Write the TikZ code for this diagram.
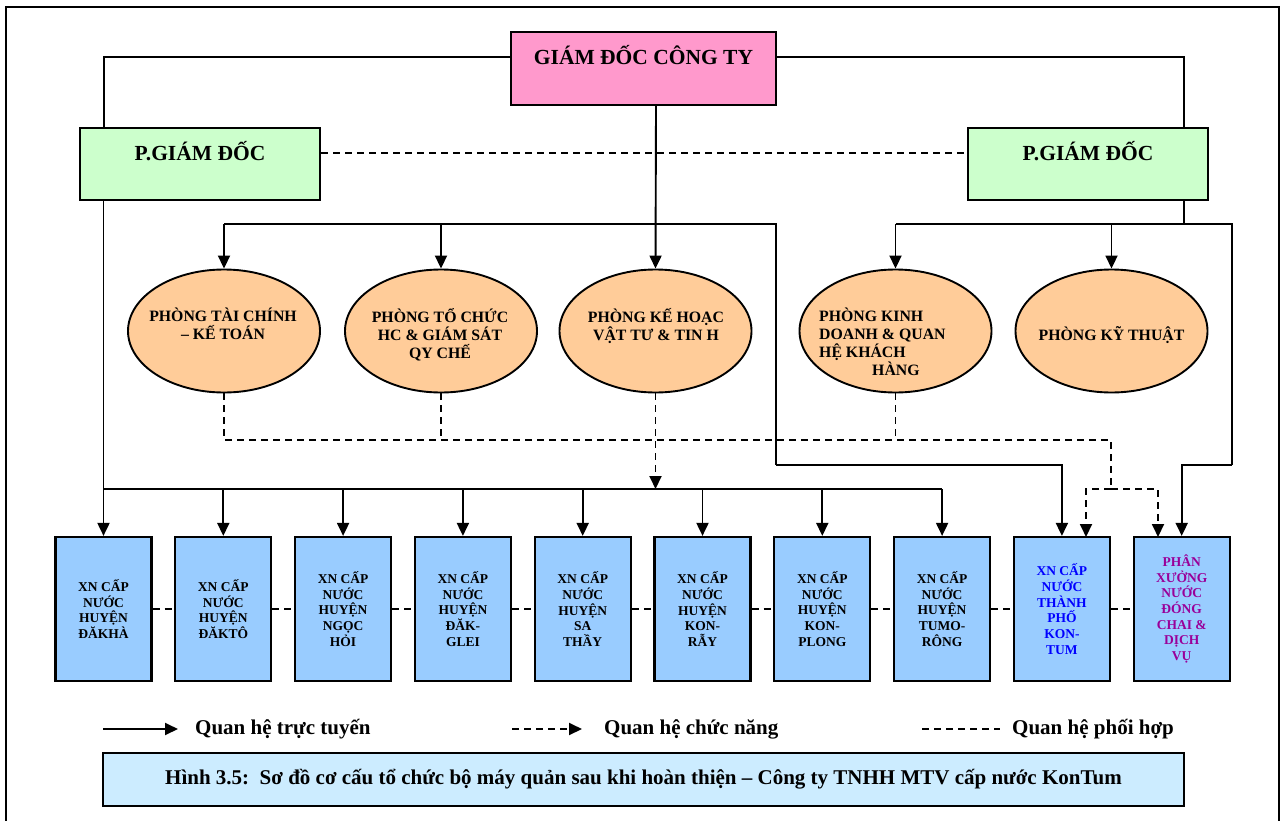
\documentclass[tikz,border=0pt]{standalone}
\usepackage{fontspec}
\setmainfont{Liberation Serif}
\usetikzlibrary{arrows.meta,shapes.geometric,calc}
\definecolor{pinkbox}{HTML}{FF99CC}
\definecolor{greenbox}{HTML}{CCFFCC}
\definecolor{orangeell}{HTML}{FFCC99}
\definecolor{bluebox}{HTML}{99CCFF}
\definecolor{capbox}{HTML}{CCECFF}
\definecolor{purpletxt}{HTML}{990099}
\definecolor{bluetxt}{HTML}{0000FF}
\begin{document}
\begin{tikzpicture}[x=1pt,y=-1pt,
  ln/.style={line width=1.9pt, black},
  arr/.style={ln, -{Triangle[length=13pt,width=12pt]}},
  dsh/.style={ln, dash pattern=on 7pt off 5pt},
  dsharr/.style={dsh, -{Triangle[length=13pt,width=12pt]}},
  boxx/.style={draw, line width=2.2pt, rectangle, inner sep=0pt},
  topbox/.style={boxx, fill=pinkbox, minimum width=265pt, minimum height=73pt},
  pgdbox/.style={boxx, fill=greenbox, minimum width=240pt, minimum height=72pt},
  dept/.style={draw, line width=1.9pt, ellipse, fill=orangeell, minimum width=192pt, minimum height=123pt, inner sep=0pt},
  unit/.style={boxx, fill=bluebox, minimum width=96pt, minimum height=144pt, align=center, font=\fontsize{13.5}{15.7}\selectfont\bfseries},
  bigtext/.style={font=\fontsize{21.5}{25}\selectfont\bfseries, inner sep=0pt, anchor=base},
  etext/.style={font=\fontsize{15.8}{18}\selectfont\bfseries, inner sep=0pt, anchor=north, align=center},
  legtext/.style={font=\fontsize{21}{24}\selectfont\bfseries, inner sep=0pt, anchor=west},
]
\useasboundingbox (0,0) rectangle (1281,821);
% outer frame
\draw[line width=2.4pt] (6,821) -- (6,7) -- (1279,7) -- (1279,821);

% top
\node[topbox] (gd) at (643.5,68.5) {};
\node[bigtext] (gdt) at (643.5,64.5) {GIÁM ĐỐC CÔNG TY};
\node[pgdbox] (pgd1) at (200,164) {};
\node[bigtext] (pgd1t) at (200,160.5) {P.GIÁM ĐỐC};
\node[pgdbox] (pgd2) at (1088,164) {};
\node[bigtext] (pgd2t) at (1088,160.5) {P.GIÁM ĐỐC};

% departments
\node[dept] (e1) at (224,331) {};
\node[dept] (e2) at (441,331) {};
\node[dept] (e3) at (655.5,331) {};
\node[dept] (e4) at (895.5,331) {};
\node[dept] (e5) at (1111.5,331) {};
\node[etext] (e1t) at (223,308) {PHÒNG TÀI CHÍNH\\– KẾ TOÁN};
\node[etext] (e2t) at (440,308) {PHÒNG TỔ CHỨC\\HC \& GIÁM SÁT\\QY CHẾ};
\node[etext] (e3t) at (656,308) {PHÒNG KẾ HOẠC\\VẬT TƯ \& TIN H};
\node[etext, anchor=north west, align=left] (e4t) at (819,308) {PHÒNG KINH\\DOANH \& QUAN\\HỆ KHÁCH\\\hspace*{53pt}HÀNG};
\node[bigtext, font=\fontsize{15.8}{18}\selectfont\bfseries] (e5t) at (1111.5,340) {PHÒNG KỸ THUẬT};

% units
\node[unit] (x1) at (103.5,609) {XN CẤP\\NƯỚC\\HUYỆN\\ĐĂKHÀ};
\node[unit] (x2) at (223.3,609) {XN CẤP\\NƯỚC\\HUYỆN\\ĐĂKTÔ};
\node[unit] (x3) at (343.1,609) {XN CẤP\\NƯỚC\\HUYỆN\\NGỌC\\HỎI};
\node[unit] (x4) at (462.9,609) {XN CẤP\\NƯỚC\\HUYỆN\\ĐĂK-\\GLEI};
\node[unit] (x5) at (582.7,609) {XN CẤP\\NƯỚC\\HUYỆN\\SA\\THẦY};
\node[unit] (x6) at (702.5,609) {XN CẤP\\NƯỚC\\HUYỆN\\KON-\\RẪY};
\node[unit] (x7) at (822.3,609) {XN CẤP\\NƯỚC\\HUYỆN\\KON-\\PLONG};
\node[unit] (x8) at (942.1,609) {XN CẤP\\NƯỚC\\HUYỆN\\TUMO-\\RÔNG};
\node[unit, text=bluetxt] (x9) at (1061.9,609) {XN CẤP\\NƯỚC\\THÀNH\\PHỐ\\KON-\\TUM};
\node[unit, text=purpletxt] (x10) at (1181.7,609) {PHÂN\\XƯỞNG\\NƯỚC\\ĐÓNG\\CHAI \&\\DỊCH\\VỤ};

% helper coordinates
\coordinate (a1) at (104,57);
\coordinate (a2) at (1184,57);
\coordinate (b0) at (656,224);
\coordinate (k1) at (776,465);
\coordinate (k2) at (1232,465);
\coordinate (bus) at (0,489);
\coordinate (d) at (0,440);
\coordinate (dr) at (1111,440);
\coordinate (dm) at (1111,489);
\coordinate (f9) at (1086,537);
\coordinate (f10) at (1158,537);
\coordinate (pc) at (0,153);

% line relations (solid)
\draw[ln] (gd.west |- a1) -- (a1) -- (a1 |- pgd1.north);
\draw[ln] (gd.east |- a2) -- (a2) -- (a2 |- pgd2.north);
\draw[arr] (gd.south -| b0) -- (e3.north);
\draw[ln] (e1.north |- b0) -- (k1 |- b0) -- (k1);
\draw[arr] (e1.north |- b0) -- (e1.north);
\draw[arr] (e2.north |- b0) -- (e2.north);
\draw[arr] (k1) -- (k1 -| x9) -- (x9.north);
\draw[ln] (pgd2.south -| a2) -- (a2 |- b0);
\draw[ln] (e4.north |- b0) -- (k2 |- b0) -- (k2);
\draw[arr] (e4.north |- b0) -- (e4.north);
\draw[arr] (e5.north |- b0) -- (e5.north);
\draw[arr] (k2) -- (k2 -| x10) -- (x10.north);
\draw[arr] (pgd1.south -| x1) -- (x1.north);
\draw[ln] (x1.north |- bus) -- (x8.north |- bus);
\foreach \u in {x2,x3,x4,x5,x6,x7,x8} \draw[arr] (\u.north |- bus) -- (\u.north);

% functional relations (dashed arrows)
\draw[dsh] (e1.south) -- (e1.south |- d) -- (dr) -- (dm);
\draw[dsh] (e2.south) -- (e2.south |- d);
\draw[dsh] (e4.south) -- (e4.south |- d);
\draw[dsharr] (e3.south) -- (e3.south |- bus);
\draw[dsharr] (dm) -- (dm -| f9) -- (f9);
\draw[dsharr] (dm) -- (dm -| f10) -- (f10);

% coordination (dashed)
\draw[dsh] (pgd1.east |- pc) -- (pgd2.west |- pc);
\draw[dsh] (x1.east) -- (x2.west);
\draw[dsh] (x2.east) -- (x3.west);
\draw[dsh] (x3.east) -- (x4.west);
\draw[dsh] (x4.east) -- (x5.west);
\draw[dsh] (x5.east) -- (x6.west);
\draw[dsh] (x6.east) -- (x7.west);
\draw[dsh] (x7.east) -- (x8.west);
\draw[dsh] (x8.east) -- (x9.west);
\draw[dsh] (x9.east) -- (x10.west);

% legend
\coordinate (l1a) at (103,729); \coordinate (l1b) at (178,729);
\coordinate (l2a) at (512,729); \coordinate (l2b) at (582,729);
\coordinate (l3a) at (922,729); \coordinate (l3b) at (1000,729);
\draw[arr] (l1a) -- (l1b);
\draw[dsharr] (l2a) -- (l2b);
\draw[dsh] (l3a) -- (l3b);
\node[legtext] (lt1) at (195,729) {Quan hệ trực tuyến};
\node[legtext] (lt2) at (604,729) {Quan hệ chức năng};
\node[legtext] (lt3) at (1012,729) {Quan hệ phối hợp};

% caption
\node[boxx, fill=capbox, minimum width=1081pt, minimum height=53pt, font=\fontsize{21}{24}\selectfont\bfseries] (cap) at (643.5,779.5) {Hình 3.5:\ \ Sơ đồ cơ cấu tổ chức bộ máy quản sau khi hoàn thiện – Công ty TNHH MTV cấp nước KonTum};
\end{tikzpicture}
\end{document}
